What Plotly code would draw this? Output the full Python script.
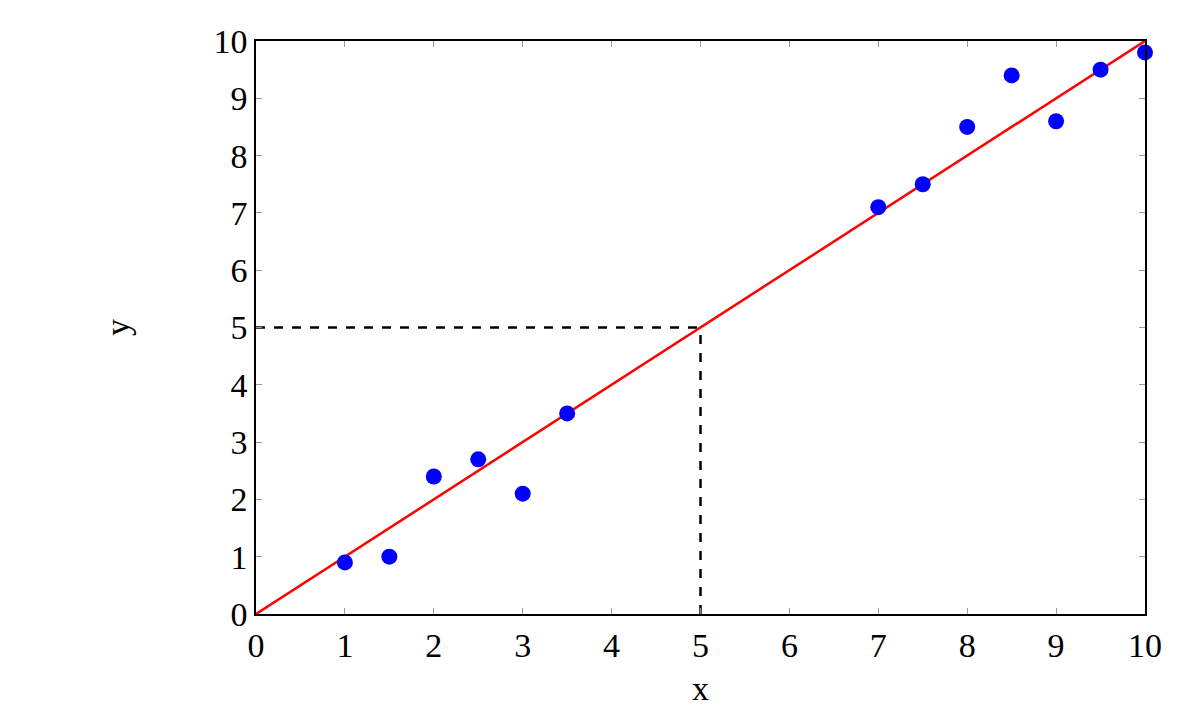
import plotly.graph_objects as go

x_pts = [1, 1.5, 2, 2.5, 3, 3.5, 7, 7.5, 8, 8.5, 9, 9.5, 10]
y_pts = [0.9, 1.0, 2.4, 2.7, 2.1, 3.5, 7.1, 7.5, 8.5, 9.4, 8.6, 9.5, 9.8]
line_x = [0, 10]
line_y = [0, 10]
h_dash_x = [0, 5]
h_dash_y = [5, 5]
v_dash_x = [5, 5]
v_dash_y = [0, 5]
ticks = list(range(0, 11))

FONT = "Liberation Serif"

fig = go.Figure()
fig.add_trace(go.Scatter(x=h_dash_x, y=h_dash_y, mode="lines",
                         line=dict(color="black", width=2.5, dash="dash"), showlegend=False))
fig.add_trace(go.Scatter(x=v_dash_x, y=v_dash_y, mode="lines",
                         line=dict(color="black", width=2.5, dash="dash"), showlegend=False))
fig.add_trace(go.Scatter(x=line_x, y=line_y, mode="lines",
                         line=dict(color="red", width=2.5), showlegend=False))
fig.add_trace(go.Scatter(x=x_pts, y=y_pts, mode="markers",
                         marker=dict(color="blue", size=16, line=dict(width=0)),
                         showlegend=False, cliponaxis=False))

axis_common = dict(
    range=[0, 10], tickvals=ticks, ticktext=[str(t) for t in ticks],
    showgrid=False, zeroline=False, showline=True, linecolor="black", linewidth=1.5,
    mirror="ticks", ticks="inside", ticklen=6, tickwidth=1, tickcolor="#999999",
    tickfont=dict(family=FONT, size=34, color="black"),
)

fig.update_layout(
    width=1193, height=717,
    margin=dict(l=248, r=56, t=33, b=111),
    plot_bgcolor="white", paper_bgcolor="white",
    xaxis=dict(**axis_common, title=dict(text="x", font=dict(family=FONT, size=34, color="black"), standoff=14)),
    yaxis=dict(**axis_common, title=dict(text="y", font=dict(family=FONT, size=34, color="black"), standoff=74)),
)

fig.write_html("out.html")
